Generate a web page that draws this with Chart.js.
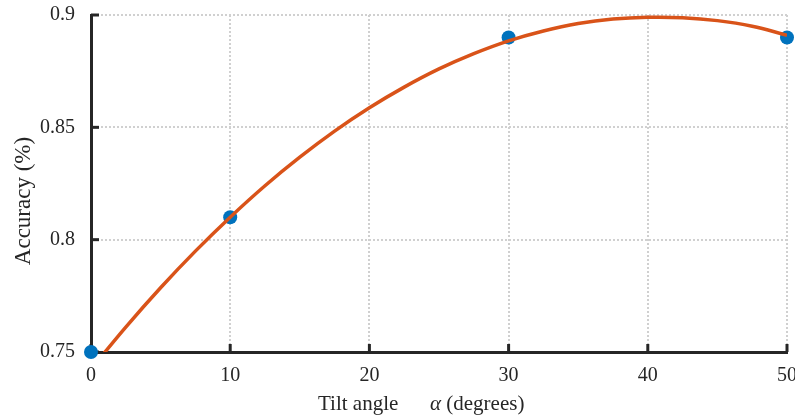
<!DOCTYPE html>
<html><head><meta charset="utf-8">
<script src="https://cdn.jsdelivr.net/npm/chart.js@4.4.1/dist/chart.umd.min.js"></script>
<style>html,body{margin:0;padding:0;background:#fff;} canvas{display:block;}</style>
</head><body>
<canvas id="c" width="795" height="416"></canvas>
<script>
const pointX = [0, 10, 30, 50];
const pointY = [0.75, 0.81, 0.89, 0.89];
const fitX = [0, 2.5, 5, 7.5, 10, 12.5, 15, 17.5, 20, 22.5, 25, 27.5, 30, 32.5, 35, 37.5, 40, 42.5, 45, 47.5, 50];
const fitY = [0.7424, 0.7611, 0.7786, 0.7949, 0.8100, 0.8240, 0.8367, 0.8483, 0.8587, 0.8679, 0.8760, 0.8828, 0.8885, 0.8929, 0.8962, 0.8982, 0.8990, 0.8988, 0.8975, 0.8950, 0.8910];
const xTicks = [0, 10, 20, 30, 40, 50];
const yTicks = [0.75, 0.8, 0.85, 0.9];
const yTickLabels = ['0.75', '0.8', '0.85', '0.9'];
const xTitleParts = ['Tilt angle', 'α', ' (degrees)'];
const yTitle = 'Accuracy (%)';

const INK = '#262626';
const FONT = 'Liberation Serif';

const decor = {
  id: 'decor',
  beforeDatasetsDraw(chart) {
    const {ctx, chartArea: a, scales: {x, y}} = chart;
    ctx.save();
    ctx.strokeStyle = INK;
    ctx.lineWidth = 3;
    xTicks.forEach(v => {
      const p = x.getPixelForValue(v);
      ctx.beginPath(); ctx.moveTo(p, a.bottom); ctx.lineTo(p, a.bottom - 8); ctx.stroke();
    });
    yTicks.forEach(v => {
      const p = y.getPixelForValue(v);
      ctx.beginPath(); ctx.moveTo(a.left, p); ctx.lineTo(a.left + 8, p); ctx.stroke();
    });
    ctx.restore();
  },
  afterDraw(chart) {
    const ctx = chart.ctx;
    ctx.save();
    ctx.fillStyle = INK;
    ctx.textBaseline = 'alphabetic';
    ctx.textAlign = 'left';
    ctx.font = '21px "' + FONT + '"';
    ctx.fillText(xTitleParts[0], 318, 410);
    ctx.font = 'italic 21px "' + FONT + '"';
    ctx.fillText(xTitleParts[1], 430, 410);
    const w = ctx.measureText(xTitleParts[1]).width;
    ctx.font = '21px "' + FONT + '"';
    ctx.fillText(xTitleParts[2], 430 + w, 410);
    ctx.translate(30, 201);
    ctx.rotate(-Math.PI / 2);
    ctx.textAlign = 'center';
    ctx.font = '23px "' + FONT + '"';
    ctx.fillText(yTitle, 0, 0);
    ctx.restore();
  }
};

const noPad = s => { s.paddingTop = 0; s.paddingBottom = 0; s.paddingLeft = 0; s.paddingRight = 0; };

new Chart(document.getElementById('c'), {
  type: 'scatter',
  data: {
    datasets: [
      {
        type: 'line',
        data: fitX.map((v, i) => ({x: v, y: fitY[i]})),
        borderColor: '#D95319',
        borderWidth: 3.5,
        pointRadius: 0,
        fill: false,
        tension: 0.4,
        clip: 0,
        order: 0
      },
      {
        type: 'scatter',
        data: pointX.map((v, i) => ({x: v, y: pointY[i]})),
        backgroundColor: '#0072BD',
        borderColor: '#0072BD',
        pointRadius: 7,
        borderWidth: 0,
        clip: false,
        order: 1
      }
    ]
  },
  options: {
    responsive: false,
    animation: false,
    events: [],
    layout: {padding: {top: 15, right: 8, left: 0, bottom: 0}},
    plugins: {legend: {display: false}, tooltip: {enabled: false}},
    scales: {
      x: {
        type: 'linear', min: 0, max: 50,
        afterBuildTicks: s => { s.ticks = xTicks.map(v => ({value: v})); },
        afterFit: s => { s.height = 64; noPad(s); },
        grid: {color: '#d0d0d0', lineWidth: 2, drawTicks: false},
        border: {display: true, color: INK, width: 3, dash: [2, 2]},
        ticks: {font: {family: FONT, size: 20}, color: INK, padding: 12, maxRotation: 0, callback: v => String(v)}
      },
      y: {
        type: 'linear', min: 0.75, max: 0.9,
        afterBuildTicks: s => { s.ticks = yTicks.map(v => ({value: v})); },
        afterFit: s => { s.width = 91; noPad(s); },
        grid: {color: '#d0d0d0', lineWidth: 2, drawTicks: false},
        border: {display: true, color: INK, width: 3, dash: [2, 2]},
        ticks: {font: {family: FONT, size: 20}, color: INK, padding: 16, callback: (v, i) => yTickLabels[i]}
      }
    }
  },
  plugins: [decor]
});
</script>
</body></html>
